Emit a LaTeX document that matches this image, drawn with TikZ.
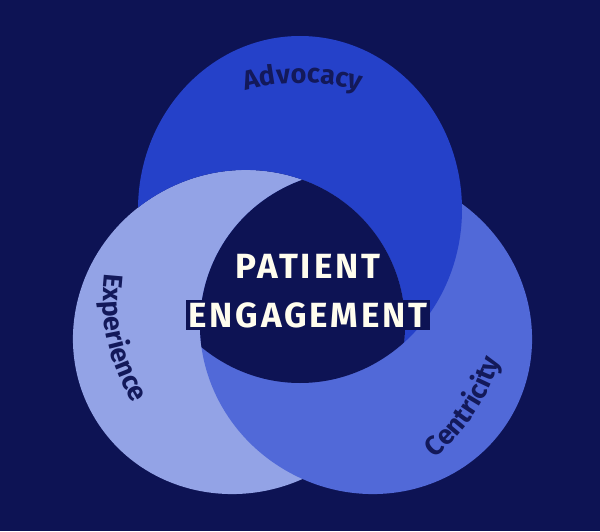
\documentclass[tikz,border=0pt]{standalone}
\usepackage{fontspec}
\setmainfont{Fira Sans}
\newfontfamily\labelfont{Fira Sans}[UprightFont=* Bold]
\newfontfamily\titlefont{Fira Sans}[UprightFont=* Bold, LetterSpace=8]
\usetikzlibrary{decorations.text}

\definecolor{bgnavy}{HTML}{0D1354}
\definecolor{advblue}{HTML}{2541C9}
\definecolor{expblue}{HTML}{93A3E6}
\definecolor{cenblue}{HTML}{5169D8}
\definecolor{labelnavy}{HTML}{13195A}
\definecolor{titleivory}{HTML}{FFFDEE}

\begin{document}
\begin{tikzpicture}[x=1pt, y=1pt,
        title/.style={fill=bgnavy, text=titleivory, inner sep=2.5pt,
            font=\titlefont\fontsize{35}{35}\selectfont},
        arclabel/.style={decorate, decoration={text along path,
            text align=center, text color=labelnavy}}]
        % Background
        \fill[bgnavy] (0,0) rectangle (600,531);
        \useasboundingbox (0,0) rectangle (600,531);

        % Centres
        \coordinate (tc) at (300,321.5);
        \coordinate (lc) at (239,199);
        \coordinate (rc) at (366,199);
        \coordinate (o) at (303,233);

        % Ellipses: Experience, then Centricity over it
        \fill[expblue] (lc) ellipse [x radius=168pt, y radius=160pt, rotate=30];
        \fill[cenblue] (rc) ellipse [x radius=168pt, y radius=160pt, rotate=-30];
        % Advocacy over Centricity, under Experience
        \begin{scope}[even odd rule]
            \clip (0,0) rectangle (600,531)
                (lc) ellipse [x radius=168pt, y radius=160pt, rotate=30];
            \fill[advblue] (tc) ellipse [x radius=162pt, y radius=173.5pt];
        \end{scope}

        % Common part
        \begin{scope}
            \clip (lc) ellipse [x radius=168pt, y radius=160pt, rotate=30];
            \clip (rc) ellipse [x radius=168pt, y radius=160pt, rotate=-30];
            \fill[bgnavy] (tc) ellipse [x radius=162pt, y radius=173.5pt];
        \end{scope}

        % Labels
        \path[arclabel, decoration={text={|\labelfont\fontsize{27}{27}\selectfont|Advocacy}}]
            (o) ++(125:215) arc[start angle=125, end angle=55, radius=215pt];
        \path[arclabel, decoration={text={|\labelfont\fontsize{27}{27}\selectfont|Experience}}]
            (o) ++(145:200) arc[start angle=145, end angle=240, radius=200pt];
        \path[arclabel, decoration={text={|\labelfont\fontsize{27}{27}\selectfont|Centricity}}]
            (o) ++(-80:207) arc[start angle=-80, end angle=12, radius=207pt];

        \node[title] (patient) at (308,265) {PATIENT};
        \node[title] (engagement) at (308,216) {ENGAGEMENT};
    \end{tikzpicture}
\end{document}
